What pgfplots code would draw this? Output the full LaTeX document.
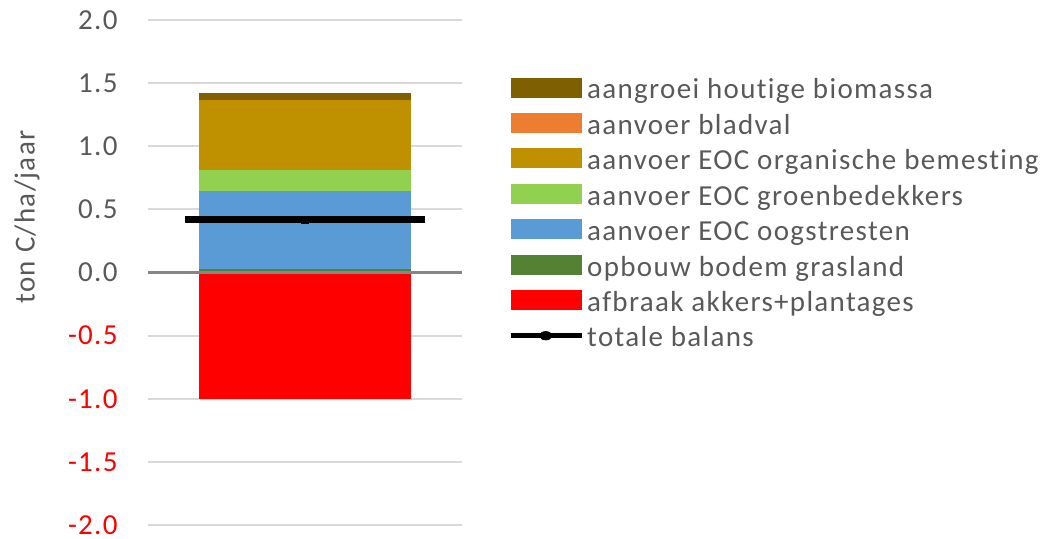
\documentclass[border=0pt]{standalone}
\usepackage{pgfplots}
\pgfplotsset{compat=1.18}
\usepackage{fontspec}
\setmainfont{Carlito}[LetterSpace=4.6, Ligatures=NoCommon]
\definecolor{txt}{HTML}{595959}
\definecolor{cHout}{HTML}{7F6000}
\definecolor{cBlad}{HTML}{ED7D31}
\definecolor{cOrg}{HTML}{BF9000}
\definecolor{cGroen}{HTML}{92D050}
\definecolor{cOogst}{HTML}{5B9BD5}
\definecolor{cGras}{HTML}{548235}
\definecolor{cAfb}{HTML}{FF0000}
\definecolor{gridc}{HTML}{D9D9D9}
\definecolor{zeroc}{HTML}{868686}
\newcommand\ls{\rule[-7.075pt]{0pt}{19.75pt}}
\pgfplotsset{
  base/.style={
    at={(0,0)}, anchor=south west, scale only axis,
    width=157pt, height=252.5pt,
    xmin=-0.5, xmax=0.5, ymin=-2, ymax=2,
    axis line style={draw=none}, major tick length=0pt,
    xtick=\empty, clip=false,
  },
  patch/.style={legend image code/.code={\fill[##1, draw=none] (0pt,-5pt) rectangle (35.5pt,5pt);}},
}
\begin{document}
\begin{tikzpicture}[font=\fontsize{14.5pt}{17pt}\selectfont, text=txt]
\useasboundingbox (-74pt,-7pt) rectangle (450pt,262.5pt);
% axis 1: grid, labels, negative bar
\begin{axis}[base,
  ybar, bar width=106pt, bar shift=0pt,
  ytick={-2,-1.5,-1,-0.5,0,0.5,1,1.5,2},
  yticklabels={\textcolor{red}{-2.0},\textcolor{red}{-1.5},\textcolor{red}{-1.0},\textcolor{red}{-0.5},0.0,0.5,1.0,1.5,2.0},
  yticklabel style={anchor=east, inner sep=0pt, xshift=-15pt, text=txt},
  ymajorgrids, major grid style={gridc, line width=1pt},
  ylabel={ton C/ha/jaar},
  ylabel style={at={(rel axis cs:-0.385,0.61)}, anchor=center, text=txt},
]
\addplot[fill=cAfb, draw=none] coordinates {(0,-1.0)};
\end{axis}
% axis 2: positive stacked bars
\begin{axis}[base, ytick=\empty,
  ybar stacked, bar width=106pt,
]
\addplot[fill=cGras, draw=none] coordinates {(0,0.030)};
\addplot[fill=cOogst, draw=none] coordinates {(0,0.618)};
\addplot[fill=cGroen, draw=none] coordinates {(0,0.165)};
\addplot[fill=cOrg, draw=none] coordinates {(0,0.552)};
\addplot[fill=cBlad, draw=none] coordinates {(0,0.0)};
\addplot[fill=cHout, draw=none] coordinates {(0,0.053)};
\end{axis}
% axis 3: zero line, total balance, legend
\begin{axis}[base,
  ytick=\empty,
  extra y ticks={0}, extra y tick labels={},
  extra y tick style={ymajorgrids=true, major grid style={zeroc, line width=1.5pt}},
  legend style={at={(rel axis cs:1.146,0.895)}, anchor=north west, draw=none, fill=none,
    inner sep=0pt, row sep=3.55pt, column sep=0pt,
    nodes={inner xsep=1.5pt, inner ysep=0pt, text=txt}},
  legend cell align=left,
]
\addlegendimage{patch, fill=cHout}
\addlegendimage{patch, fill=cBlad}
\addlegendimage{patch, fill=cOrg}
\addlegendimage{patch, fill=cGroen}
\addlegendimage{patch, fill=cOogst}
\addlegendimage{patch, fill=cGras}
\addlegendimage{patch, fill=cAfb}
\addplot[black, mark=square*, mark size=1.8pt,
  error bars/.cd, x dir=both, x explicit, error mark=none,
  error bar style={line width=3.3pt, black},
  ] coordinates {(0,0.418) +- (0.382,0)};
\pgfplotsset{legend image code/.code={%
  \draw[black, line width=2.5pt] (0pt,0pt) -- (35.5pt,0pt);
  \fill[black] (17.5pt,0pt) ellipse (3pt and 2.1pt);}}
\legend{\ls aangroei houtige biomassa, \ls aanvoer bladval, \ls aanvoer EOC organische bemesting, \ls aanvoer EOC groenbedekkers, \ls aanvoer EOC oogstresten, \ls opbouw bodem grasland, \ls afbraak akkers+plantages, \ls totale balans}
\end{axis}
\end{tikzpicture}
\end{document}
